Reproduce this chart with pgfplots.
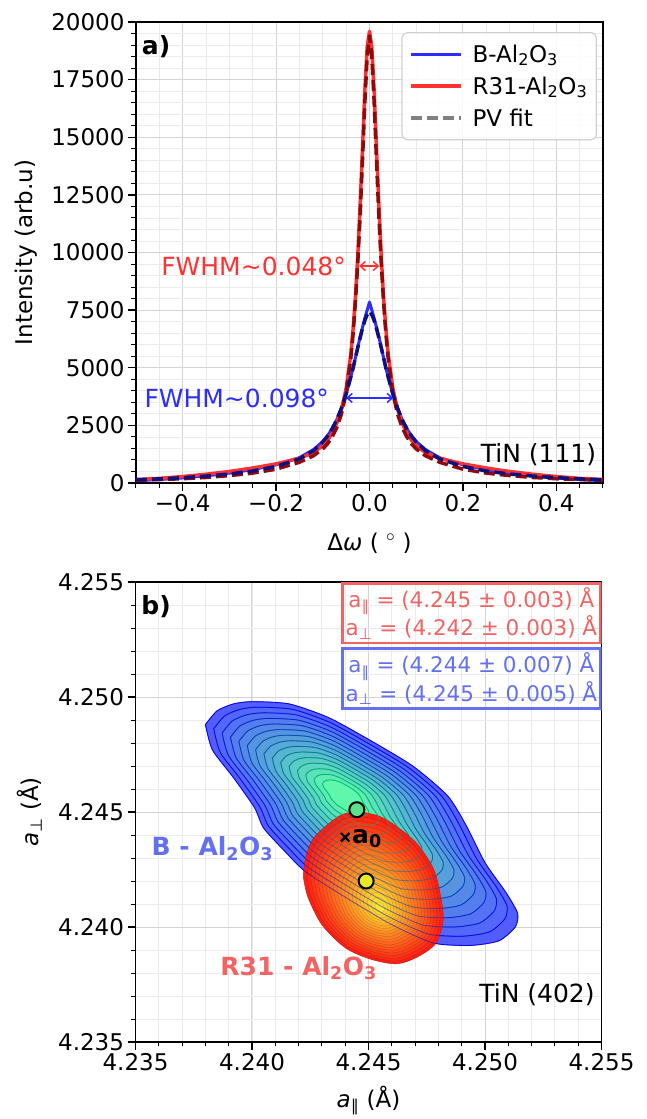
\documentclass[border=0pt]{standalone}
\usepackage{pgfplots}
\pgfplotsset{compat=1.18}
\usepackage{pgfplotstable}
\usepackage{fontspec}
\setmainfont{DejaVu Sans}
\usetikzlibrary{arrows.meta}

\definecolor{redline}{RGB}{255,50,50}
\definecolor{blueline}{RGB}{45,45,255}
\definecolor{redfit}{RGB}{145,10,10}
\definecolor{bluefit}{RGB}{15,15,125}
\definecolor{boxred}{RGB}{242,100,100}
\definecolor{boxblue}{RGB}{100,112,242}
\definecolor{bOut}{RGB}{82,92,255}
\definecolor{bIn}{RGB}{95,250,170}
\definecolor{bLOut}{RGB}{0,0,230}
\definecolor{bLIn}{RGB}{0,200,110}
\definecolor{rOut}{RGB}{255,30,20}
\definecolor{rIn}{RGB}{255,240,50}
\definecolor{dotgreen}{RGB}{90,225,140}
\definecolor{dotyellow}{RGB}{232,232,40}

\newcommand{\tickfont}{\fontsize{23}{27}\selectfont}
\newcommand{\annfont}{\fontsize{25}{30}\selectfont}
\newcommand{\boxfont}{\fontsize{21.5}{27}\selectfont}

\pgfplotstableread{
x y
-0.50 150
-0.45 200
-0.40 280
-0.35 380
-0.30 500
-0.25 650
-0.20 830
-0.15 1070
-0.12 1320
-0.10 1620
-0.09 1850
-0.08 2150
-0.07 2600
-0.06 3200
-0.05 4100
-0.04 5600
-0.035 6700
-0.03 8100
-0.025 9900
-0.02 12100
-0.015 14500
-0.01 17000
-0.005 18900
0 19600
0.005 18900
0.01 17000
0.015 14500
0.02 12100
0.025 9900
0.03 8100
0.035 6700
0.04 5600
0.05 4100
0.06 3200
0.07 2600
0.08 2150
0.09 1850
0.10 1620
0.12 1320
0.15 1070
0.20 830
0.25 650
0.30 500
0.35 380
0.40 280
0.45 200
0.50 150
}\reddata

\pgfplotstableread{
x y
-0.50 100
-0.45 150
-0.40 220
-0.35 310
-0.30 430
-0.25 580
-0.20 790
-0.15 1100
-0.12 1450
-0.10 1800
-0.09 2050
-0.08 2350
-0.07 2750
-0.06 3250
-0.05 3850
-0.04 4600
-0.035 5000
-0.03 5450
-0.025 5900
-0.02 6350
-0.015 6750
-0.01 7150
-0.005 7500
0 7850
0.005 7500
0.01 7150
0.015 6750
0.02 6350
0.025 5900
0.03 5450
0.035 5000
0.04 4600
0.05 3850
0.06 3250
0.07 2750
0.08 2350
0.09 2050
0.10 1800
0.12 1450
0.15 1100
0.20 790
0.25 580
0.30 430
0.35 310
0.40 220
0.45 150
0.50 100
}\bluedata

\pgfplotstableread{
x y
-0.50 125
-0.45 150
-0.40 185
-0.35 240
-0.30 320
-0.25 430
-0.20 600
-0.15 900
-0.12 1180
-0.10 1480
-0.09 1700
-0.08 2000
-0.07 2400
-0.06 3000
-0.05 3900
-0.04 5400
-0.035 6500
-0.03 7900
-0.025 9600
-0.02 11600
-0.015 14000
-0.01 16500
-0.005 18500
0 19400
0.005 18500
0.01 16500
0.015 14000
0.02 11600
0.025 9600
0.03 7900
0.035 6500
0.04 5400
0.05 3900
0.06 3000
0.07 2400
0.08 2000
0.09 1700
0.10 1480
0.12 1180
0.15 900
0.20 600
0.25 430
0.30 320
0.35 240
0.40 185
0.45 150
0.50 125
}\redfitdata

\pgfplotstableread{
x y
-0.50 140
-0.45 180
-0.40 230
-0.35 300
-0.30 390
-0.25 520
-0.20 720
-0.15 1050
-0.12 1400
-0.10 1780
-0.09 2030
-0.08 2350
-0.07 2750
-0.06 3250
-0.05 3870
-0.04 4600
-0.035 5000
-0.03 5450
-0.025 5880
-0.02 6300
-0.015 6700
-0.01 7050
-0.005 7300
0 7450
0.005 7300
0.01 7050
0.015 6700
0.02 6300
0.025 5880
0.03 5450
0.035 5000
0.04 4600
0.05 3870
0.06 3250
0.07 2750
0.08 2350
0.09 2030
0.10 1780
0.12 1400
0.15 1050
0.20 720
0.25 520
0.30 390
0.35 300
0.40 230
0.45 180
0.50 140
}\bluefitdata

% outer contour of the B-Al2O3 map
\pgfplotstableread{
x y
4.2380 4.2488
4.2385 4.2494
4.2392 4.2497
4.2400 4.2498
4.2416 4.2497
4.2433 4.2491
4.2451 4.2481
4.2469 4.2470
4.2484 4.2457
4.2492 4.2444
4.2500 4.2428
4.2509 4.2415
4.2514 4.2406
4.2513 4.2400
4.2506 4.2394
4.2494 4.2392
4.2478 4.2393
4.2460 4.2401
4.2440 4.2413
4.2423 4.2424
4.2414 4.2433
4.2405 4.2443
4.2401 4.2452
4.2392 4.2465
4.2383 4.2477
4.2380 4.2488
}\bluecont

% outer contour of the R31-Al2O3 map
\pgfplotstableread{
x y
4.2422 4.2422
4.2423 4.2430
4.2426 4.2438
4.2433 4.2445
4.2439 4.2449
4.2446 4.2450
4.2455 4.2448
4.2463 4.2443
4.2471 4.2436
4.2478 4.2425
4.2481 4.2413
4.2482 4.2403
4.2479 4.2393
4.2471 4.2387
4.2462 4.2384
4.2451 4.2386
4.2440 4.2391
4.2430 4.2401
4.2424 4.2413
4.2422 4.2422
}\redcont

\pgfplotsset{
  myaxis/.style={
    scale only axis,
    axis line style={line width=1.6pt, black},
    tick align=outside, xtick pos=left, ytick pos=left,
    major tick length=8pt, minor tick length=4.5pt,
    every major tick/.style={black, line width=1.4pt},
    every minor tick/.style={black, line width=1pt},
    grid=both,
    major grid style={draw=black!17, line width=1pt},
    minor grid style={draw=black!8, line width=0.8pt},
    tick label style={font=\tickfont},
    label style={font=\tickfont},
    scaled ticks=false,
  },
}

\begin{document}
\begin{tikzpicture}
% ---------------- panel a ----------------
\begin{axis}[myaxis, width=467pt, height=461pt, at={(0,0)}, anchor=south west,
  xmin=-0.5, xmax=0.5, ymin=0, ymax=20000,
  xtick={-0.4,-0.2,0,0.2,0.4}, xticklabels={−0.4,−0.2,0.0,0.2,0.4},
  minor xtick={-0.5,-0.45,...,0.5},
  ytick={0,2500,5000,7500,10000,12500,15000,17500,20000},
  yticklabels={0,2500,5000,7500,10000,12500,15000,17500,20000},
  minor ytick={0,500,...,20000},
  xlabel={Δ\textit{ω} ( $^{\circ}$ )},
  ylabel={Intensity (arb.u)},
  xlabel style={at={(axis description cs:0.5,-0.130)}, anchor=center},
  ylabel style={at={(axis description cs:-0.236,0.5)}, anchor=center},
  legend style={at={(0.987,0.978)}, anchor=north east, draw=black!18, line width=1.2pt,
    rounded corners=5pt, fill=white, fill opacity=0.85, text opacity=1,
    font=\tickfont, row sep=9pt, inner xsep=7pt, inner ysep=10pt,
    /tikz/every odd column/.style={column sep=8pt}},
  legend cell align=left,
  legend image code/.code={\draw[#1] (0pt,0pt) -- (50pt,0pt);},
]
\addplot[blueline, line width=3pt, line join=round] table {\bluedata};
\addlegendentry{B-Al\textsubscript{2}O\textsubscript{3}}
\addplot[redline, line width=3.5pt, line join=round] table {\reddata};
\addlegendentry{R31-Al\textsubscript{2}O\textsubscript{3}}
\addplot[redfit, line width=3.5pt, dash pattern=on 11pt off 5pt, line join=round, forget plot] table {\redfitdata};
\addplot[bluefit, line width=3.5pt, dash pattern=on 11pt off 5pt, line join=round, forget plot] table {\bluefitdata};
\addlegendimage{black!50, line width=3.5pt, dash pattern=on 11pt off 5pt}
\addlegendentry{PV fit}

\draw[{Straight Barb[length=5pt,width=9pt]}-{Straight Barb[length=5pt,width=9pt]}, redline, line width=1.5pt]
  (axis cs:-0.022,9414) -- (axis cs:0.021,9414);
\node[anchor=east, text=redline, font=\annfont, inner sep=2pt] at (axis cs:-0.046,9414) {FWHM\string~0.048°};
\draw[{Straight Barb[length=5pt,width=9pt]}-{Straight Barb[length=5pt,width=9pt]}, blueline, line width=1.5pt]
  (axis cs:-0.050,3690) -- (axis cs:0.051,3690);
\node[anchor=east, text=blueline, font=\annfont, inner sep=2pt] at (axis cs:-0.082,3690) {FWHM\string~0.098°};
\node[anchor=east, font=\annfont, inner sep=2pt] at (rel axis cs:0.99,0.062) {TiN (111)};
\node[anchor=north west, font=\annfont\bfseries, inner sep=2pt] at (rel axis cs:0.008,0.975) {a)};
\end{axis}

% ---------------- panel b ----------------
\begin{axis}[myaxis, width=466pt, height=460pt, at={(-0.5pt,-559pt)}, anchor=south west,
  xmin=4.235, xmax=4.255, ymin=4.235, ymax=4.255,
  xtick={4.235,4.240,4.245,4.250,4.255}, xticklabels={4.235,4.240,4.245,4.250,4.255},
  ytick={4.235,4.240,4.245,4.250,4.255}, yticklabels={4.235,4.240,4.245,4.250,4.255},
  minor xtick={4.235,4.236,...,4.255},
  minor ytick={4.235,4.236,...,4.255},
  xlabel={\textit{a}\textsubscript{∥} (Å)},
  ylabel={\textit{a}\textsubscript{⊥} (Å)},
  xlabel style={at={(axis description cs:0.5,-0.128)}, anchor=center},
  ylabel style={at={(axis description cs:-0.228,0.5)}, anchor=center},
]
% B-Al2O3 filled levels
\pgfplotsinvokeforeach{0,7,...,98}{
  \addplot[smooth, tension=0.4, fill=bIn!#1!bOut, draw=bLIn!#1!bLOut, line width=0.7pt, forget plot]
    table[x expr={4.2439+(1-#1/115)*(\thisrow{x}-4.2439)},
          y expr={4.2458+(1-#1/115)*(\thisrow{y}-4.2458)}] {\bluecont};
}
% R31-Al2O3 filled levels
\pgfplotsinvokeforeach{0,5,...,95}{
  \addplot[smooth, tension=0.5, fill=rIn!#1!rOut, draw=rIn!#1!rOut!80!black, line width=0.5pt, forget plot]
    table[x expr={4.2455+(1-#1/102)*(\thisrow{x}-4.2455)},
          y expr={4.2408+(1-#1/102)*(\thisrow{y}-4.2408)}] {\redcont};
}
% B-Al2O3 contour lines on top
\pgfplotsinvokeforeach{0,7,...,98}{
  \addplot[smooth, tension=0.4, draw=bLIn!#1!bLOut, draw opacity=0.5, line width=0.9pt, forget plot]
    table[x expr={4.2439+(1-#1/115)*(\thisrow{x}-4.2439)},
          y expr={4.2458+(1-#1/115)*(\thisrow{y}-4.2458)}] {\bluecont};
}
\addplot[only marks, mark=*, mark size=7.5pt, mark options={fill=dotgreen, draw=black, line width=2pt}] coordinates {(4.2445,4.2451)};
\addplot[only marks, mark=*, mark size=7.5pt, mark options={fill=dotyellow, draw=black, line width=2pt}] coordinates {(4.2449,4.2420)};
\addplot[only marks, mark=x, mark size=6pt, mark options={black, line width=2.2pt}] coordinates {(4.2440,4.2439)};
\node[anchor=west, font=\annfont\bfseries, inner sep=1pt] at (axis cs:4.24425,4.24385) {a\textsubscript{0}};

\node[font=\annfont\bfseries, text=boxblue] at (axis cs:4.2383,4.2434) {B - Al\textsubscript{2}O\textsubscript{3}};
\node[font=\annfont\bfseries, text=boxred] at (axis cs:4.2420,4.2382) {R31 - Al\textsubscript{2}O\textsubscript{3}};
\node[anchor=east, font=\annfont, inner sep=2pt] at (rel axis cs:0.99,0.103) {TiN (402)};
\node[anchor=north west, font=\annfont\bfseries, inner sep=2pt] at (rel axis cs:0.008,0.975) {b)};

\node[anchor=north east, draw=boxred, line width=2.5pt, text=boxred, font=\boxfont, align=center,
  inner xsep=3pt, inner ysep=4pt] (rb) at (rel axis cs:1,1)
  {a\textsubscript{∥} = (4.245 ± 0.003) Å\\a\textsubscript{⊥} = (4.242 ± 0.003) Å};
\node[anchor=north east, draw=boxblue, line width=2.5pt, text=boxblue, font=\boxfont, align=center,
  inner xsep=3pt, inner ysep=4pt] at ([yshift=-3pt]rb.south east)
  {a\textsubscript{∥} = (4.244 ± 0.007) Å\\a\textsubscript{⊥} = (4.245 ± 0.005) Å};
\end{axis}

\pgfresetboundingbox
\path[use as bounding box] (-136pt,-636pt) rectangle (511pt,483pt);
\end{tikzpicture}
\end{document}
